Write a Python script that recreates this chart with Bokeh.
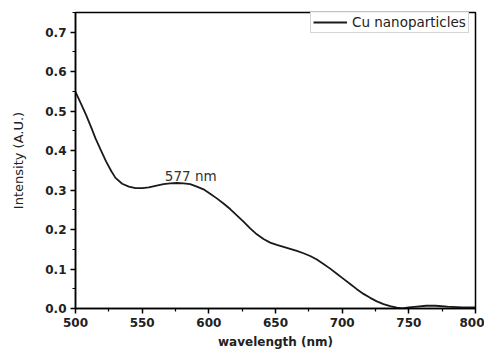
from bokeh.plotting import figure
from bokeh.models import FixedTicker, PrintfTickFormatter, Range1d, Label, Legend, LegendItem
from bokeh.embed import file_html
from bokeh.resources import INLINE

# data
wavelength = [500, 504, 508, 512, 515, 519, 523, 527, 530, 535, 540, 545, 550, 555, 560,
              566, 571, 576, 581, 586, 591, 596, 601, 606, 611, 616, 621, 626, 631, 636,
              641, 646, 651, 656, 661, 666, 671, 676, 681, 686, 691, 696, 701, 706, 711,
              716, 721, 726, 731, 736, 741, 745, 750, 756, 763, 770, 779, 790, 800]
intensity = [0.549, 0.520, 0.490, 0.457, 0.431, 0.401, 0.372, 0.347, 0.331, 0.316, 0.309,
             0.305, 0.305, 0.307, 0.311, 0.315, 0.317, 0.318, 0.317, 0.315, 0.309, 0.302,
             0.291, 0.279, 0.266, 0.252, 0.236, 0.220, 0.203, 0.188, 0.176, 0.167, 0.161,
             0.156, 0.151, 0.146, 0.140, 0.133, 0.124, 0.113, 0.101, 0.088, 0.075, 0.062,
             0.049, 0.037, 0.027, 0.018, 0.011, 0.006, 0.002, 0.000, 0.003, 0.005, 0.007,
             0.007, 0.005, 0.003, 0.003]
series_name = "Cu nanoparticles"
peak_label = "577 nm"
peak_pos = (567, 0.336)
x_ticks = [500, 550, 600, 650, 700, 750, 800]
x_minor = [525, 575, 625, 675, 725, 775]
y_ticks = [0.0, 0.1, 0.2, 0.3, 0.4, 0.5, 0.6, 0.7]
y_minor = [0.05, 0.15, 0.25, 0.35, 0.45, 0.55, 0.65, 0.75]

p = figure(width=484, height=352, output_backend="svg", toolbar_location=None,
           x_range=Range1d(500, 800), y_range=Range1d(0, 0.75),
           min_border_left=75, min_border_right=9, min_border_top=12, min_border_bottom=44)
p.xgrid.visible = False
p.ygrid.visible = False
p.outline_line_color = "black"
p.outline_line_width = 1.5
p.background_fill_color = "white"
p.border_fill_color = "white"

r = p.line(wavelength, intensity, line_color="#1a1a1a", line_width=1.8)

for ax in (p.xaxis[0], p.yaxis[0]):
    ax.axis_line_color = "black"
    ax.axis_line_width = 1.5
    ax.major_tick_line_color = "black"
    ax.major_tick_line_width = 1.5
    ax.minor_tick_line_color = "black"
    ax.minor_tick_line_width = 1.2
    ax.major_tick_out = 5
    ax.major_tick_in = 0
    ax.minor_tick_out = 3
    ax.minor_tick_in = 0
    ax.major_label_text_font = "DejaVu Sans"
    ax.major_label_text_font_style = "bold"
    ax.major_label_text_font_size = "12px"
    ax.major_label_text_color = "#222222"
    ax.axis_label_text_font = "DejaVu Sans"
    ax.axis_label_text_color = "#222222"

p.xaxis.ticker = FixedTicker(ticks=x_ticks, minor_ticks=x_minor)
p.yaxis.ticker = FixedTicker(ticks=y_ticks, minor_ticks=y_minor)
p.yaxis.formatter = PrintfTickFormatter(format="%.1f")

p.xaxis.axis_label = "wavelength (nm)"
p.xaxis.axis_label_text_font_style = "bold"
p.xaxis.axis_label_text_font_size = "12px"
p.xaxis.axis_label_standoff = 5
p.xaxis.major_label_standoff = 4

p.yaxis.axis_label = "Intensity (A.U.)"
p.yaxis.axis_label_text_font_style = "normal"
p.yaxis.axis_label_text_font_size = "13px"
p.yaxis.axis_label_standoff = 16
p.yaxis.major_label_standoff = 4

p.add_layout(Label(x=peak_pos[0], y=peak_pos[1], text=peak_label,
                   text_font="DejaVu Sans", text_font_size="13.5px",
                   text_color="#333333", text_baseline="alphabetic"))

legend = Legend(items=[LegendItem(label=series_name, renderers=[r])],
                location=(235, 275), padding=2, spacing=0, margin=0,
                glyph_width=34, glyph_height=16, label_height=16, label_standoff=5,
                label_text_font="DejaVu Sans", label_text_font_size="13.5px",
                label_text_color="#222222",
                border_line_color="#aaaaaa", border_line_width=1,
                background_fill_color="white")
p.add_layout(legend)

open("out.html", "w").write(file_html(p, INLINE))
